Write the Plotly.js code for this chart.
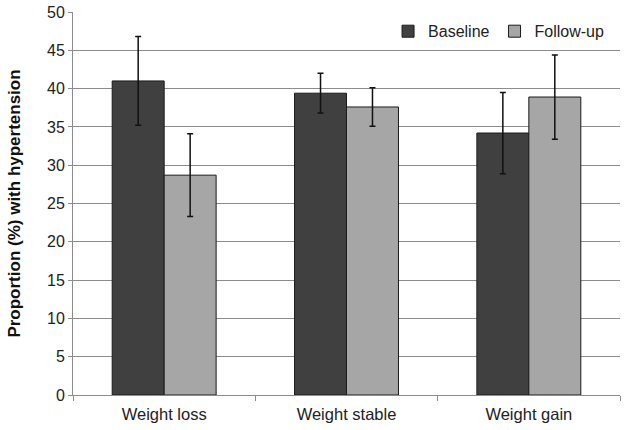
<!DOCTYPE html>
<html>
<head>
<meta charset="utf-8">
<script src="https://cdn.plot.ly/plotly-3.0.1.min.js"></script>
<style>
  html, body { margin: 0; padding: 0; background: #fff; }
  #chart { width: 628px; height: 430px; }
</style>
</head>
<body>
<div id="chart"></div>
<script>
var groups = ['Weight loss', 'Weight stable', 'Weight gain'];
var baseline = [41.0, 39.4, 34.2];
var baselineErr = [5.8, 2.6, 5.3];
var followup = [28.7, 37.6, 38.9];
var followupErr = [5.4, 2.5, 5.5];

var baseTrace = {
    type: 'bar',
    name: 'Baseline',
    x: groups,
    y: baseline,
    marker: { color: '#404040', line: { color: '#1a1a1a', width: 1 } },
    error_y: { type: 'data', array: baselineErr, visible: true, color: '#111', thickness: 1.5, width: 3 }
};

var followTrace = {
    type: 'bar',
    name: 'Follow-up',
    x: groups,
    y: followup,
    marker: { color: '#a6a6a6', line: { color: '#1a1a1a', width: 1 } },
    error_y: { type: 'data', array: followupErr, visible: true, color: '#111', thickness: 1.5, width: 3 }
};

var layout = {
    width: 628,
    height: 430,
    margin: { l: 73, r: 8, t: 12, b: 35 },
    paper_bgcolor: '#fff',
    plot_bgcolor: '#fff',
    font: { family: 'Liberation Sans, Arial, sans-serif', size: 16, color: '#222' },
    barmode: 'group',
    bargap: 0.43,
    bargroupgap: 0,
    showlegend: true,
    legend: {
        orientation: 'h',
        x: 0.98, y: 0.994,
        xanchor: 'right', yanchor: 'top',
        bgcolor: 'rgba(0,0,0,0)',
        font: { size: 16, color: '#222' },
        traceorder: 'normal'
    },
    xaxis: {
        type: 'category',
        showgrid: false,
        showline: true,
        linecolor: '#8c8c8c',
        linewidth: 1,
        ticks: 'outside',
        tickson: 'boundaries',
        ticklen: 5,
        tickcolor: '#8c8c8c',
        ticklabelstandoff: 4,
        tickfont: { size: 16.5, color: '#222' }
    },
    yaxis: {
        range: [0, 50],
        dtick: 5,
        showgrid: true,
        gridcolor: '#8c8c8c',
        gridwidth: 1,
        zeroline: false,
        showline: true,
        linecolor: '#8c8c8c',
        ticks: 'outside',
        ticklen: 4,
        tickcolor: '#8c8c8c',
        tickfont: { size: 16, color: '#222' },
        title: { text: 'Proportion (%) with hypertension', font: { size: 17, color: '#111', weight: 'bold' }, standoff: 22 }
    }
};

Plotly.newPlot('chart', [baseTrace, followTrace], layout, { displayModeBar: false, staticPlot: true });
</script>
</body>
</html>
